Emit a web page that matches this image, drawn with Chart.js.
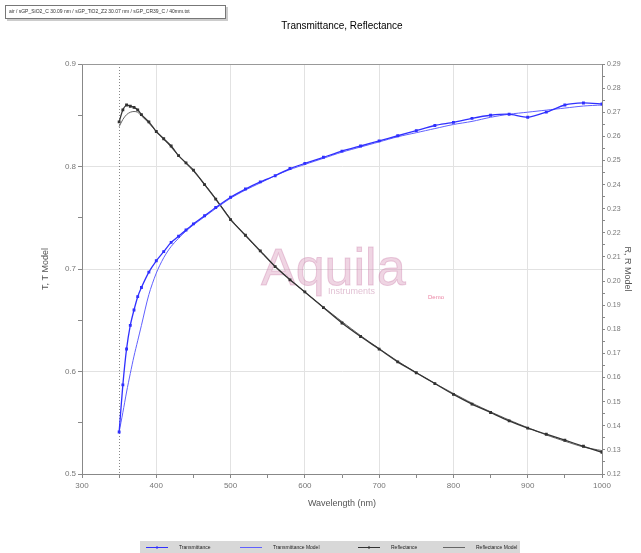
<!DOCTYPE html>
<html>
<head>
<meta charset="utf-8">
<script src="https://cdn.jsdelivr.net/npm/chart.js@4"></script>
<style>
  html, body { margin: 0; padding: 0; background: #fff; }
</style>
</head>
<body>
<canvas id="myChart" width="641" height="553"></canvas>
<script>
// wavelengths (nm) shared by all four series
const wavelengths = [350, 355, 360, 365, 370, 375, 380, 390, 400, 410, 420, 430, 440, 450, 465, 480, 500, 520, 540, 560, 580, 600, 625, 650, 675, 700, 725, 750, 775, 800, 825, 850, 875, 900, 925, 950, 975, 1000];

// left axis: T, T Model
const transmittance = [0.541, 0.587, 0.622, 0.645, 0.660, 0.673, 0.682, 0.697, 0.708, 0.717, 0.726, 0.732, 0.738, 0.744, 0.752, 0.760, 0.770, 0.778, 0.785, 0.791, 0.798, 0.803, 0.809, 0.815, 0.820, 0.825, 0.830, 0.835, 0.840, 0.843, 0.847, 0.850, 0.851, 0.848, 0.853, 0.860, 0.862, 0.861];
const transmittanceModel = [0.541, 0.560, 0.580, 0.598, 0.615, 0.630, 0.645, 0.675, 0.696, 0.711, 0.722, 0.730, 0.737, 0.743, 0.751, 0.759, 0.769, 0.777, 0.784, 0.791, 0.797, 0.802, 0.808, 0.814, 0.819, 0.824, 0.829, 0.833, 0.837, 0.841, 0.844, 0.848, 0.851, 0.853, 0.855, 0.857, 0.859, 0.860];

// right axis: R, R Model
const reflectance = [0.266, 0.271, 0.273, 0.2725, 0.272, 0.271, 0.269, 0.266, 0.262, 0.259, 0.256, 0.252, 0.249, 0.246, 0.240, 0.234, 0.2255, 0.219, 0.2125, 0.206, 0.2005, 0.1955, 0.189, 0.1826, 0.177, 0.1718, 0.1665, 0.162, 0.1575, 0.153, 0.149, 0.1455, 0.142, 0.139, 0.1365, 0.134, 0.1315, 0.129];
const reflectanceModel = [0.264, 0.267, 0.269, 0.270, 0.2703, 0.270, 0.2685, 0.2655, 0.262, 0.2588, 0.2555, 0.252, 0.2488, 0.2455, 0.2402, 0.2342, 0.2258, 0.2188, 0.2122, 0.2062, 0.2006, 0.1954, 0.1892, 0.1832, 0.1774, 0.1720, 0.1668, 0.1620, 0.1576, 0.1534, 0.1494, 0.1458, 0.1424, 0.1392, 0.1362, 0.1336, 0.1312, 0.1297];

const seriesNames = ["Transmittance", "Transmittance Model", "Reflectance", "Reflectance Model"];
const titleText = "Transmittance, Reflectance";
const fileText = "air / sGP_SiO2_C 30.09 nm / sGP_TiO2_Z2 30.07 nm / sGP_CR39_C / 40mm.txt";
const markerLine = 350;

const FONT = "'Liberation Sans', Arial, sans-serif";

function pairs(values) {
  return wavelengths.map((w, i) => ({ x: w, y: values[i] }));
}

// extra drawing: info box, title, 350 nm marker, watermark, legend strip
const decorations = {
  id: "decorations",
  beforeDatasetsDraw(chart) {
    const { ctx, chartArea: a, scales } = chart;
    ctx.save();

    // dotted marker line
    const mx = scales.x.getPixelForValue(markerLine);
    ctx.strokeStyle = "#888";
    ctx.lineWidth = 1;
    ctx.setLineDash([1, 2]);
    ctx.beginPath();
    ctx.moveTo(Math.round(mx) + 0.5, a.top);
    ctx.lineTo(Math.round(mx) + 0.5, a.bottom);
    ctx.stroke();
    ctx.setLineDash([]);

    // top border
    ctx.strokeStyle = "#999";
    ctx.beginPath();
    ctx.moveTo(a.left, a.top + 0.5);
    ctx.lineTo(a.right, a.top + 0.5);
    ctx.stroke();

    // watermark
    ctx.textBaseline = "alphabetic";
    ctx.textAlign = "left";
    ctx.font = "300 52px " + FONT;
    ctx.fillStyle = "rgba(214,150,185,0.4)";
    ctx.fillText("Aquila", 261, 285);
    ctx.strokeStyle = "rgba(200,120,165,0.35)";
    ctx.lineWidth = 1;
    ctx.strokeText("Aquila", 261, 285);
    ctx.font = "9px " + FONT;
    ctx.fillStyle = "rgba(200,140,175,0.55)";
    ctx.fillText("Instruments", 328, 294);
    ctx.font = "6px " + FONT;
    ctx.fillStyle = "rgba(230,100,140,0.8)";
    ctx.fillText("Demo", 428, 299);
    ctx.restore();
  },
  afterDraw(chart) {
    const { ctx } = chart;
    ctx.save();

    // file info box
    ctx.fillStyle = "#ccc";
    ctx.fillRect(7, 7, 221, 14);
    ctx.fillStyle = "#fff";
    ctx.fillRect(5, 5, 221, 14);
    ctx.strokeStyle = "#777";
    ctx.lineWidth = 1;
    ctx.strokeRect(5.5, 5.5, 220, 13);
    ctx.fillStyle = "#333";
    ctx.font = "5px " + FONT;
    ctx.textBaseline = "middle";
    ctx.fillText(fileText, 9, 12);

    // title
    ctx.font = "10px " + FONT;
    ctx.fillStyle = "#000";
    ctx.textAlign = "center";
    ctx.fillText(titleText, 342, 26);

    // legend strip
    ctx.fillStyle = "#d8d8d8";
    ctx.fillRect(140, 541, 380, 12);
    const xs = [146, 240, 358, 443];
    ctx.textAlign = "left";
    ctx.font = "5px " + FONT;
    chart.data.datasets.forEach((ds, i) => {
      const x = xs[i], y = 547.5;
      ctx.strokeStyle = ds.borderColor;
      ctx.lineWidth = 1;
      ctx.beginPath();
      ctx.moveTo(x, y);
      ctx.lineTo(x + 22, y);
      ctx.stroke();
      if (ds.pointRadius > 0) {
        ctx.fillStyle = ds.borderColor;
        ctx.fillRect(x + 10, y - 1, 2, 2);
      }
      ctx.fillStyle = "#222";
      ctx.fillText(ds.label, x + 33, y);
    });
    ctx.restore();
  }
};

const isMajor = (v, unit) => Math.abs(Math.round(v / unit) * unit - v) < 1e-6;

new Chart(document.getElementById("myChart"), {
  type: "line",
  data: {
    datasets: [
      {
        label: seriesNames[0],
        data: pairs(transmittance),
        yAxisID: "y",
        borderColor: "#3030ff",
        backgroundColor: "#3030ff",
        borderWidth: 1.3,
        pointRadius: 1.1,
        pointStyle: "rect",
        tension: 0.2
      },
      {
        label: seriesNames[1],
        data: pairs(transmittanceModel),
        yAxisID: "y",
        borderColor: "#6060ff",
        borderWidth: 1,
        pointRadius: 0,
        tension: 0.3
      },
      {
        label: seriesNames[2],
        data: pairs(reflectance),
        yAxisID: "y1",
        borderColor: "#333",
        backgroundColor: "#333",
        borderWidth: 1.3,
        pointRadius: 1.1,
        pointStyle: "rect",
        tension: 0.2
      },
      {
        label: seriesNames[3],
        data: pairs(reflectanceModel),
        yAxisID: "y1",
        borderColor: "#666",
        borderWidth: 1,
        pointRadius: 0,
        tension: 0.3
      }
    ]
  },
  options: {
    responsive: false,
    animation: false,
    layout: { padding: { top: 64, left: 36, right: 4, bottom: 40 } },
    plugins: {
      legend: { display: false },
      title: { display: false },
      tooltip: { enabled: false }
    },
    scales: {
      x: {
        type: "linear",
        min: 300,
        max: 1000,
        afterFit: s => { s.height = 39; },
        ticks: {
          stepSize: 50,
          autoSkip: false,
          maxRotation: 0,
          padding: 3,
          color: "#777",
          font: { family: FONT, size: 8 },
          callback: v => (isMajor(v, 100) ? String(v) : "")
        },
        grid: {
          color: c => (isMajor(c.tick.value, 100) && c.tick.value > 300 && c.tick.value < 1000 ? "#e2e2e2" : "rgba(0,0,0,0)"),
          tickColor: "#888",
          tickLength: 4
        },
        border: { color: "#888" },
        title: {
          display: true,
          text: "Wavelength (nm)",
          color: "#555",
          font: { family: FONT, size: 9 },
          padding: { top: 2, bottom: 4 }
        }
      },
      y: {
        position: "left",
        min: 0.5,
        max: 0.9,
        afterFit: s => { s.width = 46; },
        ticks: {
          stepSize: 0.05,
          autoSkip: false,
          padding: 2,
          color: "#777",
          font: { family: FONT, size: 8 },
          callback: v => (isMajor(v, 0.1) ? v.toFixed(1) : "")
        },
        grid: {
          color: c => (isMajor(c.tick.value, 0.1) && c.tick.value > 0.51 && c.tick.value < 0.89 ? "#e2e2e2" : "rgba(0,0,0,0)"),
          tickColor: "#888",
          tickLength: 4
        },
        border: { color: "#888" },
        title: {
          display: true,
          text: "T, T Model",
          color: "#555",
          font: { family: FONT, size: 9 },
          padding: { top: 4, bottom: 4 }
        }
      },
      y1: {
        position: "right",
        min: 0.12,
        max: 0.29,
        afterFit: s => { s.width = 35; },
        ticks: {
          stepSize: 0.005,
          autoSkip: false,
          padding: 2,
          color: "#777",
          font: { family: FONT, size: 7 },
          callback: v => (isMajor(v, 0.01) ? v.toFixed(2) : "")
        },
        grid: {
          drawOnChartArea: false,
          tickColor: "#888",
          tickLength: 3
        },
        border: { color: "#888" },
        title: {
          display: true,
          text: "R, R Model",
          color: "#555",
          font: { family: FONT, size: 9 },
          padding: { top: 4, bottom: 2 }
        }
      }
    }
  },
  plugins: [decorations]
});
</script>
</body>
</html>
